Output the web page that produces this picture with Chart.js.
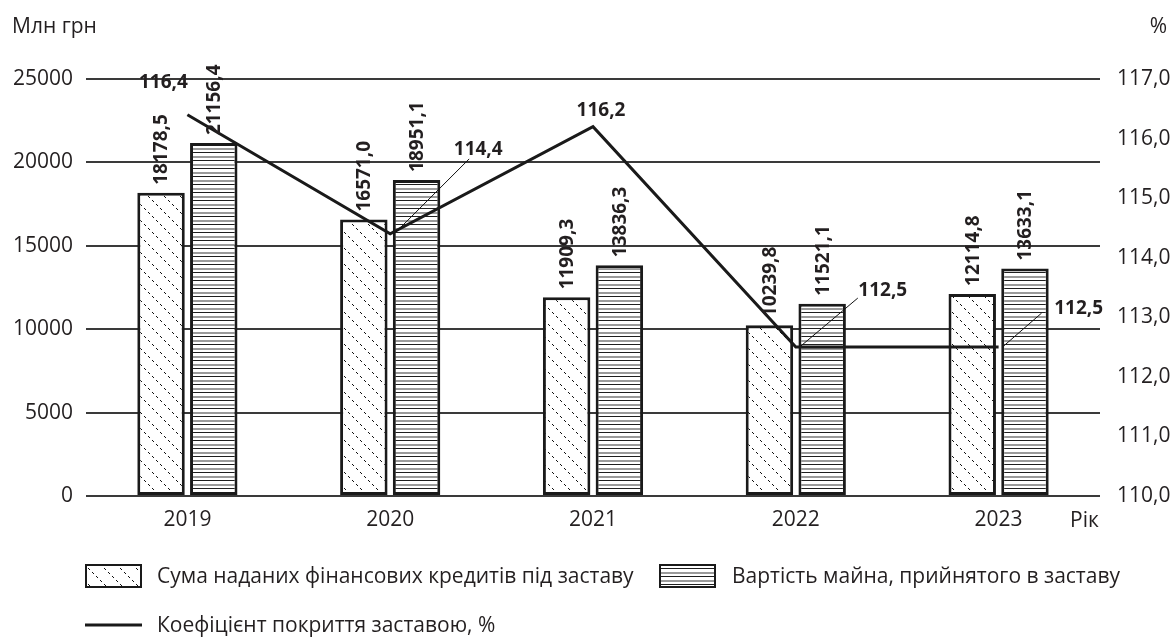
<!DOCTYPE html>
<html>
<head>
<meta charset="utf-8">
<title>Кредити під заставу</title>
<script src="https://cdn.jsdelivr.net/npm/chart.js@4"></script>
<style>
  html,body{margin:0;padding:0;background:#fff;}
  #wrap{width:1173px;height:643px;position:relative;}
</style>
</head>
<body>
<div id="wrap"><canvas id="chart" width="1173" height="643"></canvas></div>
<script>
// ---------------- DATA ----------------
const years = ["2019", "2020", "2021", "2022", "2023"];
const credits = [18178.5, 16571.0, 11909.3, 10239.8, 12114.8];      // сума кредитів
const collateral = [21156.4, 18951.1, 13836.3, 11521.1, 13633.1];   // вартість майна
const coverage = [116.4, 114.4, 116.2, 112.5, 112.5];                // коефіцієнт, %
const leftTicks = [0, 5000, 10000, 15000, 20000, 25000];
const rightTicks = [110, 111, 112, 113, 114, 115, 116, 117];

const seriesNames = [
  "Сума наданих фінансових кредитів під заставу",
  "Вартість майна, прийнятого в заставу",
  "Коефіцієнт покриття заставою, %"
];

const FONT = "'Open Sans', 'Noto Sans', sans-serif";
const INK = "#231f20";

// ---------------- PATTERNS ----------------
function makeDiag(ctx){
  const c = document.createElement("canvas");
  c.width = 16; c.height = 16;
  const g = c.getContext("2d");
  g.fillStyle = "#fff";
  g.fillRect(0,0,16,16);
  g.fillStyle = "#111";
  for(let i=0;i<16;i+=4){
    g.fillRect(i, i, 1, 1);
    g.fillRect(i+1, i+1, 1, 1);
  }
  return ctx.createPattern(c, "repeat");
}

function makeStripes(ctx){
  const c = document.createElement("canvas");
  c.width = 8; c.height = 8;
  const g = c.getContext("2d");
  g.fillStyle = "#fff";
  g.fillRect(0,0,8,8);
  g.fillStyle = "#1e1e1e";
  g.fillRect(0,0,8,1);
  g.fillStyle = "#9a9a9a";
  g.fillRect(0,4,8,2);
  return ctx.createPattern(c, "repeat");
}

const fmt = v => v.toFixed(1).replace(".", ",");

// label offsets for the line values (dx,dy = text centre, lx,ly = leader end)
const lineLabelLayout = [
  {dx:-24, dy:-32},
  {dx:88, dy:-84, lx:79, ly:-75},
  {dx:8, dy:-16},
  {dx:87, dy:-56, lx:62, ly:-49},
  {dx:80, dy:-38, lx:43, ly:-34}
];

// ---------------- PLUGIN ----------------
const annotations = {
  id: "annotations",
  afterDatasetsDraw(chart){
    const ctx = chart.ctx;
    ctx.save();
    ctx.fillStyle = INK;

    // bar values, rotated
    ctx.font = "bold 19px " + FONT;
    [0,1].forEach(di => {
      const meta = chart.getDatasetMeta(di);
      const vals = chart.data.datasets[di].data;
      meta.data.forEach((bar, i) => {
        ctx.save();
        ctx.translate(bar.x + 1, bar.y - 8);
        ctx.rotate(-Math.PI/2);
        ctx.textAlign = "left";
        ctx.textBaseline = "middle";
        ctx.fillText(fmt(vals[i]), 0, 0);
        ctx.restore();
      });
    });

    // line values + leaders
    const lmeta = chart.getDatasetMeta(2);
    ctx.textAlign = "center";
    ctx.textBaseline = "middle";
    lmeta.data.forEach((p, i) => {
      const L = lineLabelLayout[i];
      if(L.lx !== undefined){
        ctx.strokeStyle = "#111";
        ctx.lineWidth = 1;
        ctx.beginPath();
        ctx.moveTo(p.x + 5, p.y - 1);
        ctx.lineTo(p.x + L.lx, p.y + L.ly);
        ctx.stroke();
      }
      ctx.fillText(fmt(coverage[i]), p.x + L.dx, p.y + L.dy);
    });
    ctx.restore();
  },
  afterDraw(chart){
    const ctx = chart.ctx;
    const ds = chart.data.datasets;
    ctx.save();
    ctx.fillStyle = INK;
    ctx.font = "21px " + FONT;
    ctx.textBaseline = "middle";

    // units
    ctx.textAlign = "left";
    ctx.fillText("Млн грн", 12, 27);
    ctx.fillText("Рік", 1070, 521);
    ctx.textAlign = "right";
    ctx.fillText("%", 1167, 27);

    // legend
    ctx.textAlign = "left";
    ctx.strokeStyle = "#1a1a1a";
    ctx.lineWidth = 2;
    ctx.fillStyle = ds[0].backgroundColor;
    ctx.fillRect(86, 565, 55, 22);
    ctx.strokeRect(86, 565, 55, 22);
    ctx.fillStyle = ds[1].backgroundColor;
    ctx.fillRect(660, 565, 55, 22);
    ctx.strokeRect(660, 565, 55, 22);

    ctx.lineWidth = 3;
    ctx.beginPath();
    ctx.moveTo(85, 625);
    ctx.lineTo(142, 625);
    ctx.stroke();

    ctx.fillStyle = INK;
    ctx.fillText(seriesNames[0], 157, 577);
    ctx.fillText(seriesNames[1], 732, 577);
    ctx.fillText(seriesNames[2], 157, 626);
    ctx.restore();
  }
};

// ---------------- CHART ----------------
const canvas = document.getElementById("chart");
const cctx = canvas.getContext("2d");

new Chart(canvas, {
  data: {
    labels: years,
    datasets: [
      {
        type: "bar",
        label: seriesNames[0],
        data: credits,
        backgroundColor: makeDiag(cctx),
        borderColor: "#1a1a1a",
        borderWidth: 3,
        borderSkipped: false,
        barPercentage: 0.9,
        categoryPercentage: 0.52,
        yAxisID: "y",
        order: 2
      },
      {
        type: "bar",
        label: seriesNames[1],
        data: collateral,
        backgroundColor: makeStripes(cctx),
        borderColor: "#1a1a1a",
        borderWidth: 3,
        borderSkipped: false,
        barPercentage: 0.9,
        categoryPercentage: 0.52,
        yAxisID: "y",
        order: 2
      },
      {
        type: "line",
        label: seriesNames[2],
        data: coverage,
        borderColor: "#1a1a1a",
        borderWidth: 3,
        pointRadius: 0,
        tension: 0,
        yAxisID: "y1",
        order: 0
      }
    ]
  },
  options: {
    responsive: false,
    animation: false,
    layout: { padding: { top: 79, left: 0, right: 0, bottom: 0 } },
    plugins: {
      legend: { display: false },
      tooltip: { enabled: false }
    },
    scales: {
      x: {
        grid: { display: false, drawTicks: false },
        border: { display: false },
        ticks: { color: INK, font: { family: FONT, size: 21 }, padding: 11 },
        afterFit(s){ s.height = 147; }
      },
      y: {
        position: "left",
        min: leftTicks[0],
        max: leftTicks[leftTicks.length-1],
        ticks: {
          stepSize: leftTicks[1] - leftTicks[0],
          color: INK,
          font: { family: FONT, size: 21 },
          padding: 13,
          callback: v => String(v)
        },
        grid: { color: "#3a3a3a", lineWidth: 2, drawTicks: false },
        border: { display: false },
        afterFit(s){ s.width = 86; }
      },
      y1: {
        position: "right",
        min: rightTicks[0],
        max: rightTicks[rightTicks.length-1],
        ticks: {
          stepSize: rightTicks[1] - rightTicks[0],
          color: INK,
          font: { family: FONT, size: 21 },
          padding: 17,
          callback: v => fmt(v)
        },
        grid: { display: false, drawTicks: false },
        border: { display: false },
        afterFit(s){ s.width = 73; }
      }
    }
  },
  plugins: [annotations]
});
</script>
</body>
</html>
